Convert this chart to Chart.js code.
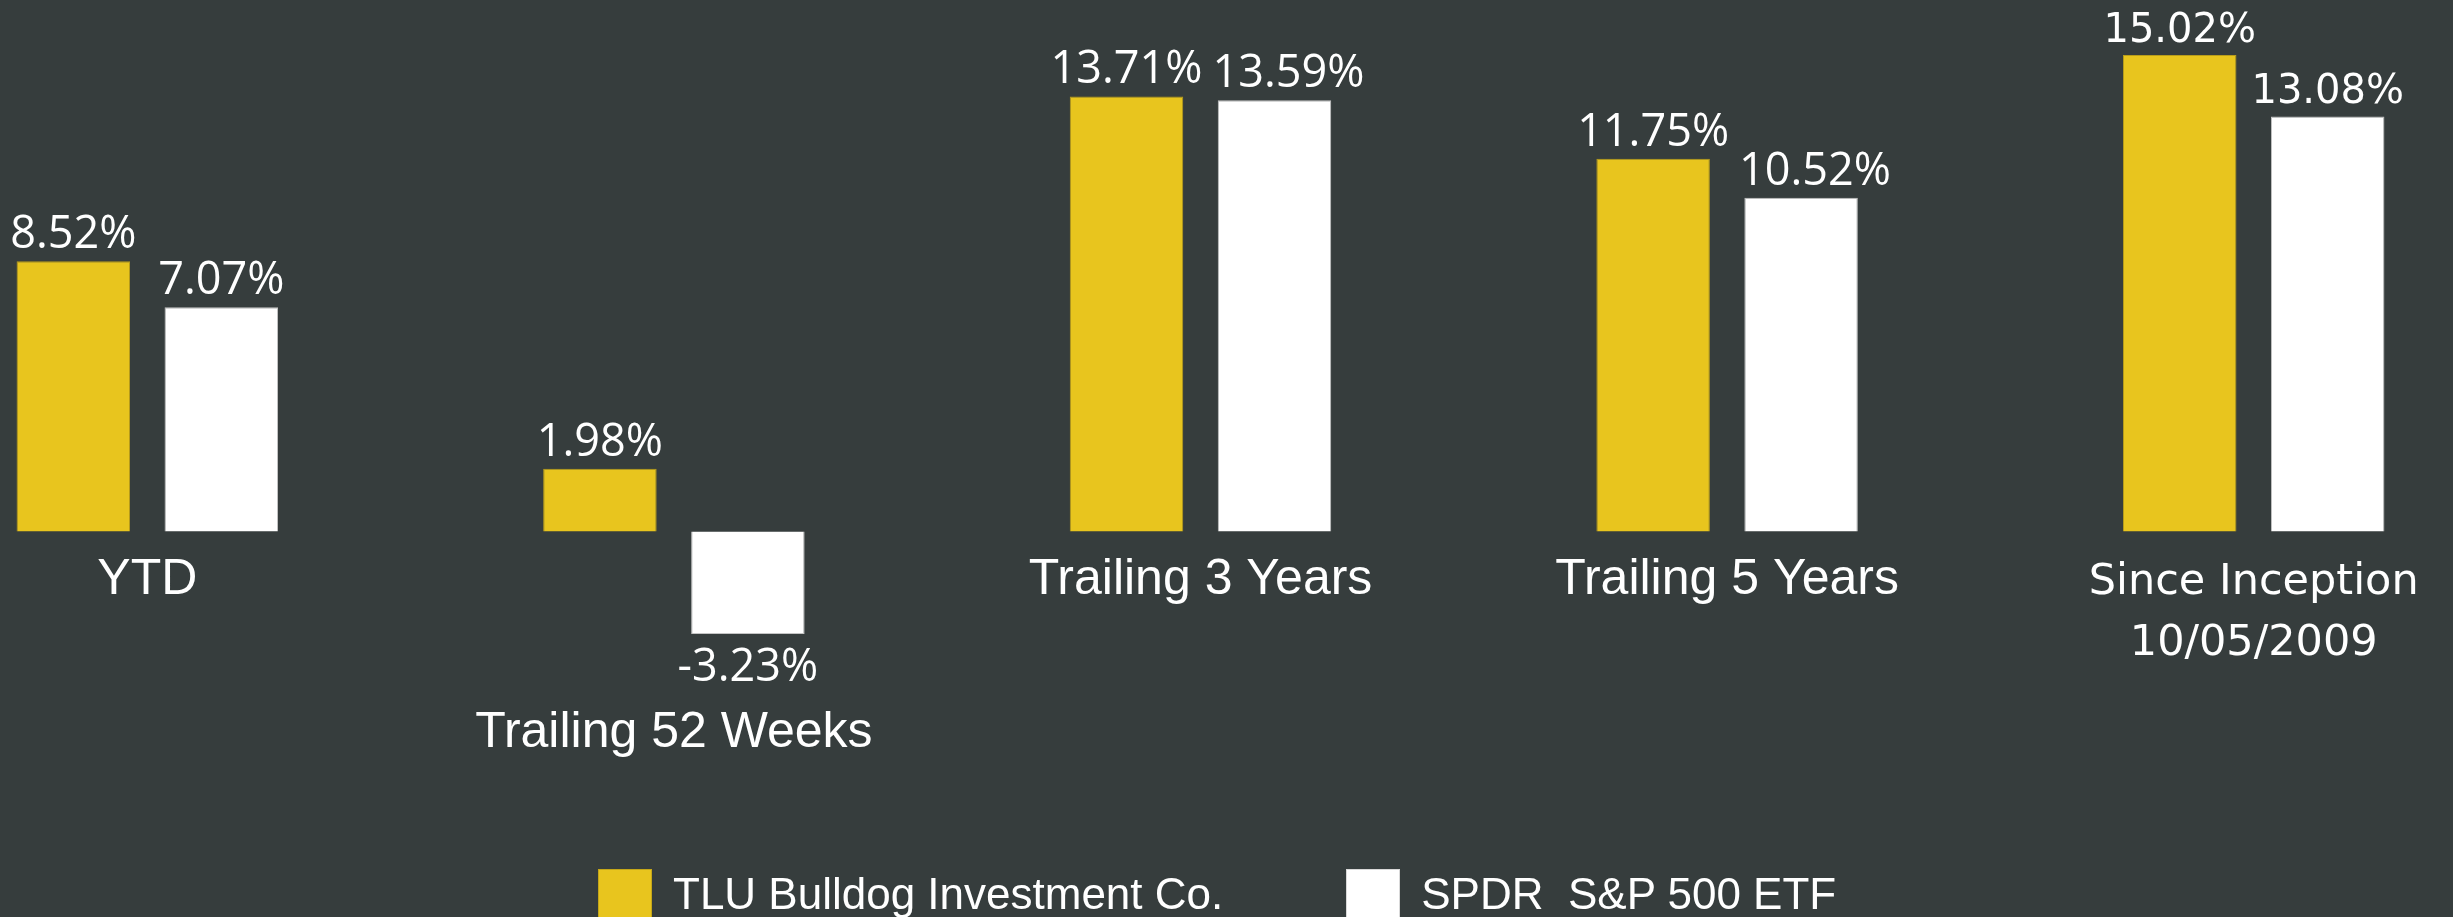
<!DOCTYPE html>
<html>
<head>
<meta charset="utf-8">
<script src="https://cdn.jsdelivr.net/npm/chart.js@4/dist/chart.umd.min.js"></script>
<style>
    html, body { margin: 0; padding: 0; background: #363d3d; width: 2453px; height: 917px; overflow: hidden; }
    .wrap { position: absolute; left: -116px; top: 0; width: 2633px; height: 917px; }
    .legend { position: absolute; left: 598px; top: 869px; display: flex; align-items: flex-start; }
    .legend-item { display: flex; align-items: flex-start; margin-right: 123px; }
    .legend-box { width: 54px; height: 54px; box-sizing: border-box; border: 1px solid rgba(0,0,0,0.15); }
    .legend-text { font: 44px "Liberation Sans", Arial, sans-serif; color: #fff; line-height: 54px;
        margin-left: 21px; margin-top: -2px; white-space: pre; }
</style>
</head>
<body>
<div class="wrap"><canvas id="returns-chart" width="2633" height="917"></canvas></div>
<div class="legend" id="legend"></div>
<script>
const categories = [['YTD'], ['Trailing 52 Weeks'], ['Trailing 3 Years'], ['Trailing 5 Years'], ['Since Inception', '10/05/2009']];
const seriesNames = ['TLU Bulldog Investment Co.', 'SPDR  S&P 500 ETF'];
const tluReturns = [8.52, 1.98, 13.71, 11.75, 15.02];
const spdrReturns = [7.07, -3.23, 13.59, 10.52, 13.08];

const colors = [
    { fill: '#e8c51e', border: '#b99d1a' },
    { fill: '#ffffff', border: '#c4c4c4' }
];

// the last group is set in a wider face in the original
const valueFont = i => i === 4 ? '40px "DejaVu Sans"' : '45px "Open Sans"';
const catFont = i => i === 4 ? '43px "DejaVu Sans"' : '50px "Liberation Sans"';

// ── Labels drawn on top of the bars ─────────────────────────────────────────
const barLabels = {
    id: 'barLabels',
    afterDatasetsDraw(chart) {
        const { ctx } = chart;
        const zero = chart.scales.y.getPixelForValue(0);
        ctx.save();
        ctx.fillStyle = '#ffffff';
        ctx.textAlign = 'left';
        ctx.textBaseline = 'alphabetic';

        categories.forEach((cat, i) => {
            let lowest = zero;
            let prev = null;
            chart.data.datasets.forEach((ds, d) => {
                const bar = chart.getDatasetMeta(d).data[i];
                const v = ds.data[i];
                const text = v.toFixed(2) + '%';
                ctx.font = valueFont(i);
                const m = ctx.measureText(text);
                const cap = m.actualBoundingBoxAscent;
                let x = bar.x - m.width / 2;
                const y = v >= 0 ? bar.y - 13 : bar.y + 13 + cap;
                if (prev && prev.sign === Math.sign(v) && Math.abs(prev.y - y) < 44 && x < prev.right + 10) {
                    x = prev.right + 10;
                }
                ctx.fillText(text, x, y);
                prev = { right: x + m.width, y, sign: Math.sign(v) };
                if (v < 0) lowest = Math.max(lowest, y + 4);
            });

            const center = (chart.getDatasetMeta(0).data[i].x + chart.getDatasetMeta(1).data[i].x) / 2;
            ctx.font = catFont(i);
            ctx.textAlign = 'center';
            cat.forEach((line, k) => ctx.fillText(line, center, lowest + 62 + k * 61));
            ctx.textAlign = 'left';
        });
        ctx.restore();
    }
};

const chart = new Chart(document.getElementById('returns-chart'), {
    type: 'bar',
    data: {
        labels: categories,
        datasets: [
            { label: seriesNames[0], data: tluReturns },
            { label: seriesNames[1], data: spdrReturns }
        ].map((ds, i) => ({
            ...ds,
            backgroundColor: colors[i].fill,
            borderColor: colors[i].border,
            borderWidth: 1,
            categoryPercentage: 0.562,
            barPercentage: 0.767
        }))
    },
    options: {
        responsive: false,
        animation: false,
        layout: { padding: { top: 0, bottom: 195, left: 0, right: 0 } },
        plugins: {
            legend: { display: false },
            tooltip: { enabled: false }
        },
        scales: {
            x: { display: false },
            y: { display: false, min: -6, max: 16.75 }
        }
    },
    plugins: [barLabels]
});

document.getElementById('legend').innerHTML = chart.data.datasets.map(ds => `
    <div class="legend-item">
        <span class="legend-box" style="background:${ds.backgroundColor}"></span>
        <span class="legend-text">${ds.label.replace('&', '&amp;')}</span>
    </div>`).join('');
</script>
</body>
</html>
